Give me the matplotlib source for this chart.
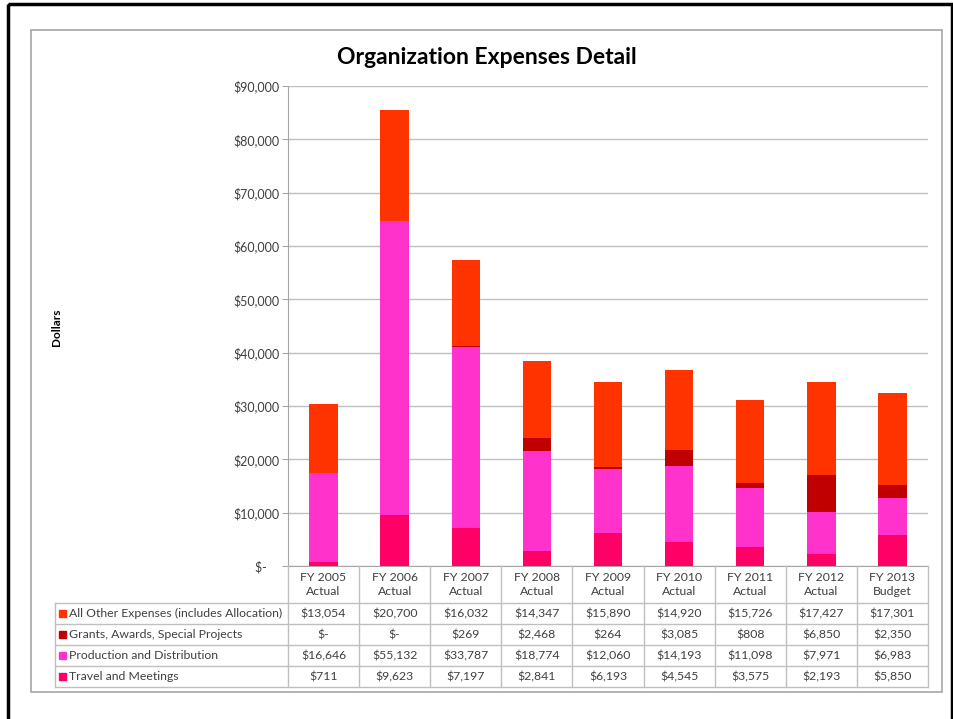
import matplotlib as mpl
mpl.use("Agg")
import matplotlib.pyplot as plt
from matplotlib.patches import Rectangle
from matplotlib.ticker import FuncFormatter, MultipleLocator

mpl.rcParams.update({"font.family": ["Lato", "DejaVu Sans"]})

years = ["FY 2005\nActual", "FY 2006\nActual", "FY 2007\nActual", "FY 2008\nActual",
         "FY 2009\nActual", "FY 2010\nActual", "FY 2011\nActual", "FY 2012\nActual",
         "FY 2013\nBudget"]
series_names = ["All Other Expenses (includes Allocation)", "Grants, Awards, Special Projects",
                "Production and Distribution", "Travel and Meetings"]
other = [13054, 20700, 16032, 14347, 15890, 14920, 15726, 17427, 17301]
grants = [0, 0, 269, 2468, 264, 3085, 808, 6850, 2350]
production = [16646, 55132, 33787, 18774, 12060, 14193, 11098, 7971, 6983]
travel = [711, 9623, 7197, 2841, 6193, 4545, 3575, 2193, 5850]
colors = ["#FF3300", "#C00000", "#FF33CC", "#FF0066"]

W, H = 954, 719
fig = plt.figure(figsize=(W / 100, H / 100), dpi=100)


def px(x0, y0, x1, y1):
    # pixel box (top-left origin) -> figure fraction rect
    return [x0 / W, 1 - y1 / H, (x1 - x0) / W, (y1 - y0) / H]


# frames
bg = fig.add_axes([0, 0, 1, 1])
bg.set_xlim(0, W)
bg.set_ylim(H, 0)
bg.axis("off")
bg.add_patch(Rectangle((8, 4), 944, 740, fill=False, ec="black", lw=2.5))
bg.add_patch(Rectangle((31, 30), 911, 662, fill=False, ec="#A6A6A6", lw=1.2))
bg.text(487, 58, "Organization Expenses Detail", ha="center", va="center",
        fontsize=16.5, fontweight="bold", color="black")
bg.text(57, 327, "Dollars", rotation=90, ha="center", va="center",
        fontsize=8.5, fontweight="bold", color="black")

# bars
ax = fig.add_axes(px(288, 86, 928, 566))
x = list(range(len(years)))
bottom = [0] * len(years)
stack = [(travel, colors[3]), (production, colors[2]), (grants, colors[1]), (other, colors[0])]
for vals, c in stack:
    ax.bar(x, vals, width=0.4, bottom=bottom, color=c, zorder=3)
    bottom = [b + v for b, v in zip(bottom, vals)]
ax.set_xlim(-0.5, len(years) - 0.5)
ax.set_ylim(0, 90000)
ax.yaxis.set_major_locator(MultipleLocator(10000))
ax.yaxis.set_major_formatter(FuncFormatter(lambda v, p: "$-    " if v == 0 else "${:,.0f}".format(v)))
ax.grid(axis="y", color="#BFBFBF", lw=1, zorder=0)
ax.set_xticks([])
for s in ["top", "right"]:
    ax.spines[s].set_visible(False)
ax.spines["left"].set_color("#A6A6A6")
ax.spines["bottom"].set_color("#A6A6A6")
ax.tick_params(axis="y", length=4, color="#A6A6A6", labelsize=9, labelcolor="#404040", pad=2)

# data table
tb = fig.add_axes(px(55, 566, 928, 687))
n = len(years)
lab_w = (928 - 55) / (640 / n)
tb.set_xlim(n - 0.5 - lab_w, n - 0.5)
tb.set_ylim(0, 121)
tb.axis("off")
lc = "#BFBFBF"
left = n - 0.5 - lab_w
rows = [other, grants, production, travel]
# horizontal lines
for k in range(5):
    tb.plot([left, n - 0.5], [k * 21, k * 21], color=lc, lw=1, clip_on=False)
# vertical lines
tb.plot([left, left], [0, 84], color=lc, lw=1, clip_on=False)
for i in range(n + 1):
    tb.plot([i - 0.5, i - 0.5], [0, 121], color=lc, lw=1, clip_on=False)
for i, yl in enumerate(years):
    tb.text(i, 102.5, yl, ha="center", va="center", fontsize=8.8, color="#404040", linespacing=1.25)
for r, (name, vals, c) in enumerate(zip(series_names, rows, colors)):
    yc = 84 - 21 * r - 10.5
    tb.add_patch(Rectangle((left + 0.05, yc - 3.5), 0.1, 7, color=c, clip_on=False))
    tb.text(left + 0.2, yc, name, ha="left", va="center", fontsize=8.8, color="#404040")
    for i, v in enumerate(vals):
        tb.text(i, yc, "$-" if v == 0 else "${:,}".format(v), ha="center", va="center",
                fontsize=8.8, color="#404040")

fig.savefig("out.png", dpi=100)
